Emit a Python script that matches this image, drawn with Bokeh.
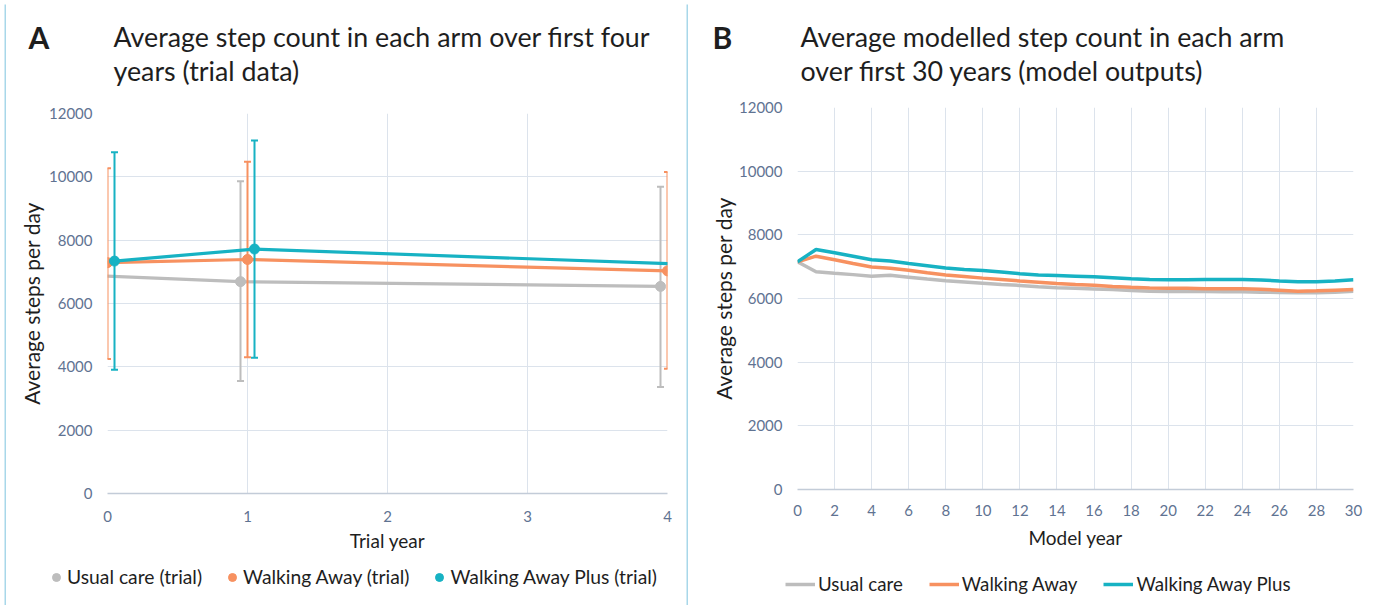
from bokeh.plotting import figure
from bokeh.models import Label, Legend, LegendItem, FixedTicker, Range1d
from bokeh.layouts import row, column
from bokeh.embed import file_html
from bokeh.resources import INLINE

NAN = float("nan")

# ---------------- data: panel A (trial data) ----------------
trial_years = [0, 1, 4]
uc_mean = [6870, 6690, 6540]
uc_low = [NAN, 3550, 3360]
uc_high = [NAN, 9860, 9690]
wa_mean = [7290, 7390, 7030]
wa_low = [4250, 4300, 3940]
wa_high = [10270, 10480, 10150]
wap_mean = [7340, 7720, 7250]
wap_low = [3910, 4290, NAN]
wap_high = [10780, 11150, NAN]
trial_names = ["Usual care (trial)", "Walking Away (trial)", "Walking Away Plus (trial)"]

# ---------------- data: panel B (model outputs) ----------------
model_years = list(range(0, 31))
uc_model = [7150, 6840, 6790, 6750, 6700, 6730, 6670, 6610, 6560, 6520, 6480,
            6440, 6410, 6370, 6340, 6320, 6300, 6280, 6250, 6230, 6220,
            6220, 6220, 6210, 6210, 6200, 6190, 6180, 6180, 6200, 6230]
wa_model = [7150, 7330, 7220, 7100, 6990, 6950, 6890, 6810, 6740, 6690, 6640,
            6600, 6550, 6510, 6470, 6440, 6420, 6380, 6350, 6330, 6320,
            6320, 6310, 6310, 6310, 6290, 6260, 6230, 6240, 6260, 6280]
wap_model = [7150, 7540, 7440, 7330, 7220, 7180, 7100, 7030, 6960, 6910, 6880,
             6830, 6780, 6740, 6720, 6700, 6680, 6650, 6620, 6600, 6590,
             6590, 6600, 6600, 6600, 6580, 6550, 6530, 6530, 6550, 6590]
model_names = ["Usual care", "Walking Away", "Walking Away Plus"]

y_ticks = [0, 2000, 4000, 6000, 8000, 10000, 12000]
trial_ticks = [0, 1, 2, 3, 4]
model_ticks = list(range(0, 31, 2))

title_A = ["Average step count in each arm over first four", "years (trial data)"]
title_B = ["Average modelled step count in each arm", "over first 30 years (model outputs)"]

# ---------------- styles ----------------
FONT = "Lato"
COLORS = ["#bdbdbd", "#f79160", "#17b2c3"]
TICK_COLOR = "#5f7392"
GRID = "#dce3ec"
AXIS = "#c3ccd8"
BORDER = "#a8d7e9"
TEXT = "#1e1e1e"
WHITE = "white"

H = 605
BOT_H = 40


def blank(w, h, color=WHITE):
    """An empty figure with no axes, used for titles, legends and border strips."""
    f = figure(width=w, height=h, x_range=Range1d(0, w), y_range=Range1d(0, h),
               x_axis_type=None, y_axis_type=None, output_backend="svg",
               toolbar_location=None, min_border=0, title=None)
    f.outline_line_color = None
    f.background_fill_color = color
    f.border_fill_color = color
    return f


def style(p, xticks, tick_standoff, label_standoff_x, label_standoff_y):
    p.outline_line_color = None
    p.background_fill_color = WHITE
    p.border_fill_color = WHITE
    for ax in (p.xaxis[0], p.yaxis[0]):
        ax.major_tick_line_color = None
        ax.minor_tick_line_color = None
        ax.major_label_text_font = FONT
        ax.major_label_text_font_size = "15px"
        ax.major_label_text_color = TICK_COLOR
        ax.axis_label_text_font = FONT
        ax.axis_label_text_font_style = "normal"
        ax.axis_label_text_color = TEXT
    p.yaxis[0].major_label_standoff = 9
    p.xaxis[0].major_label_standoff = tick_standoff
    p.yaxis[0].axis_line_color = None
    p.xaxis[0].axis_line_color = AXIS
    p.xaxis[0].axis_line_width = 1.5
    p.yaxis[0].ticker = FixedTicker(ticks=y_ticks)
    p.xaxis[0].ticker = FixedTicker(ticks=xticks)
    p.xgrid[0].ticker = FixedTicker(ticks=xticks)
    p.ygrid[0].ticker = FixedTicker(ticks=y_ticks)
    p.xgrid.grid_line_color = GRID
    p.ygrid.grid_line_color = GRID
    p.yaxis[0].axis_label_text_font_size = "21px"
    p.yaxis[0].axis_label_standoff = label_standoff_y
    p.xaxis[0].axis_label_standoff = label_standoff_x
    p.xaxis[0].axis_label_text_font_size = "19px"


def title_fig(w, h, letter, lines, letter_x, text_x):
    """Title block; label y is measured in pixels up from the block's bottom."""
    f = blank(w, h)
    base = h + 6 - 36
    f.add_layout(Label(x=letter_x, y=base, x_units="screen", y_units="screen",
                       text=letter, text_font=FONT, text_font_size="30px",
                       text_font_style="bold", text_color=TEXT,
                       text_baseline="alphabetic"))
    for i, t in enumerate(lines):
        f.add_layout(Label(x=text_x, y=base - 34 * i, x_units="screen", y_units="screen",
                           text=t, text_font=FONT, text_font_size="26.8px",
                           text_color=TEXT, text_baseline="alphabetic"))
    return f


def vborder():
    return column(blank(2, 4), blank(2, H - 4, BORDER), spacing=0)


# ---------------- panel A ----------------
INNER_A = 680
TOP_A = 94               # title block: page y 6..100
MID_A = H - 6 - TOP_A - BOT_H
pA = figure(width=INNER_A, height=MID_A, x_range=Range1d(0, 4), y_range=Range1d(0, 12000),
            output_backend="svg", toolbar_location=None, title=None,
            min_border_left=101, min_border_right=19, min_border_top=13,
            min_border_bottom=MID_A - 13 - 380,
            x_axis_label="Trial year", y_axis_label="Average steps per day")
style(pA, trial_ticks, 11, 4, 2)

offsets = [-0.05, 0.0, 0.05]
series_A = [(uc_mean, uc_low, uc_high), (wa_mean, wa_low, wa_high),
            (wap_mean, wap_low, wap_high)]
for (mean, low, high), off, col in zip(series_A, offsets, COLORS):
    xs = [y + off for y in trial_years]
    pA.segment(x0=xs, y0=low, x1=xs, y1=high, line_color=col, line_width=2)
    pA.scatter(x=xs, y=low, marker="dash", size=7, line_color=col, line_width=2)
    pA.scatter(x=xs, y=high, marker="dash", size=7, line_color=col, line_width=2)
    pA.line(x=xs, y=mean, line_color=col, line_width=3.2)
    pA.scatter(x=xs, y=mean, marker="circle", size=10, fill_color=col, line_color=col)

tA = title_fig(INNER_A, TOP_A, "A", title_A, 22, 107)

lA = blank(INNER_A, BOT_H)
items_A = []
for col, name in zip(COLORS, trial_names):
    # off-canvas stand-in so the legend has a glyph to draw
    r = lA.scatter(x=[-100], y=[-100], marker="circle", size=8, fill_color=col, line_color=col)
    items_A.append(LegendItem(label=name, renderers=[r]))
legA = Legend(items=items_A, orientation="horizontal", location=(40, 17),
              label_text_font=FONT, label_text_font_size="19.3px", label_text_color=TEXT,
              glyph_width=20, glyph_height=20, label_height=20, label_standoff=1,
              spacing=20, padding=0, margin=0,
              background_fill_alpha=0, border_line_alpha=0)
lA.add_layout(legA, "center")

innerA = column(blank(INNER_A, 4), blank(INNER_A, 2, BORDER), row(tA), row(pA), row(lA),
                spacing=0)
panelA = row(blank(4, H), vborder(), innerA, vborder(), spacing=0)   # x 0..688

# ---------------- panel B ----------------
INNER_B = 689            # x 688..1377
TOP_B = 86               # title block: page y 6..92
MID_B = H - 6 - TOP_B - BOT_H
pB = figure(width=INNER_B, height=MID_B, x_range=Range1d(0, 30), y_range=Range1d(0, 12000),
            output_backend="svg", toolbar_location=None, title=None,
            min_border_left=109, min_border_right=24, min_border_top=15,
            min_border_bottom=MID_B - 15 - 382,
            x_axis_label="Model year", y_axis_label="Average steps per day")
style(pB, model_ticks, 9, 7, 0)

for vals, col in zip([uc_model, wa_model, wap_model], COLORS):
    pB.line(x=model_years, y=vals, line_color=col, line_width=3.5)

tB = title_fig(INNER_B, TOP_B, "B", title_B, 24, 112)

lB = blank(INNER_B, BOT_H)
items_B = []
for col, name in zip(COLORS, model_names):
    r = lB.line(x=[-100, -90], y=[-100, -100], line_color=col, line_width=3.5)
    items_B.append(LegendItem(label=name, renderers=[r]))
legB = Legend(items=items_B, orientation="horizontal", location=(97, 10),
              label_text_font=FONT, label_text_font_size="18.7px", label_text_color=TEXT,
              glyph_width=30, glyph_height=20, label_height=20, label_standoff=3,
              spacing=26, padding=0, margin=0,
              background_fill_alpha=0, border_line_alpha=0)
lB.add_layout(legB, "center")

innerB = column(blank(INNER_B, 4), blank(INNER_B, 2, BORDER), row(tB), row(pB), row(lB),
                spacing=0)

layout = row(panelA, innerB, spacing=0)
open("out.html", "w").write(file_html(layout, INLINE))
